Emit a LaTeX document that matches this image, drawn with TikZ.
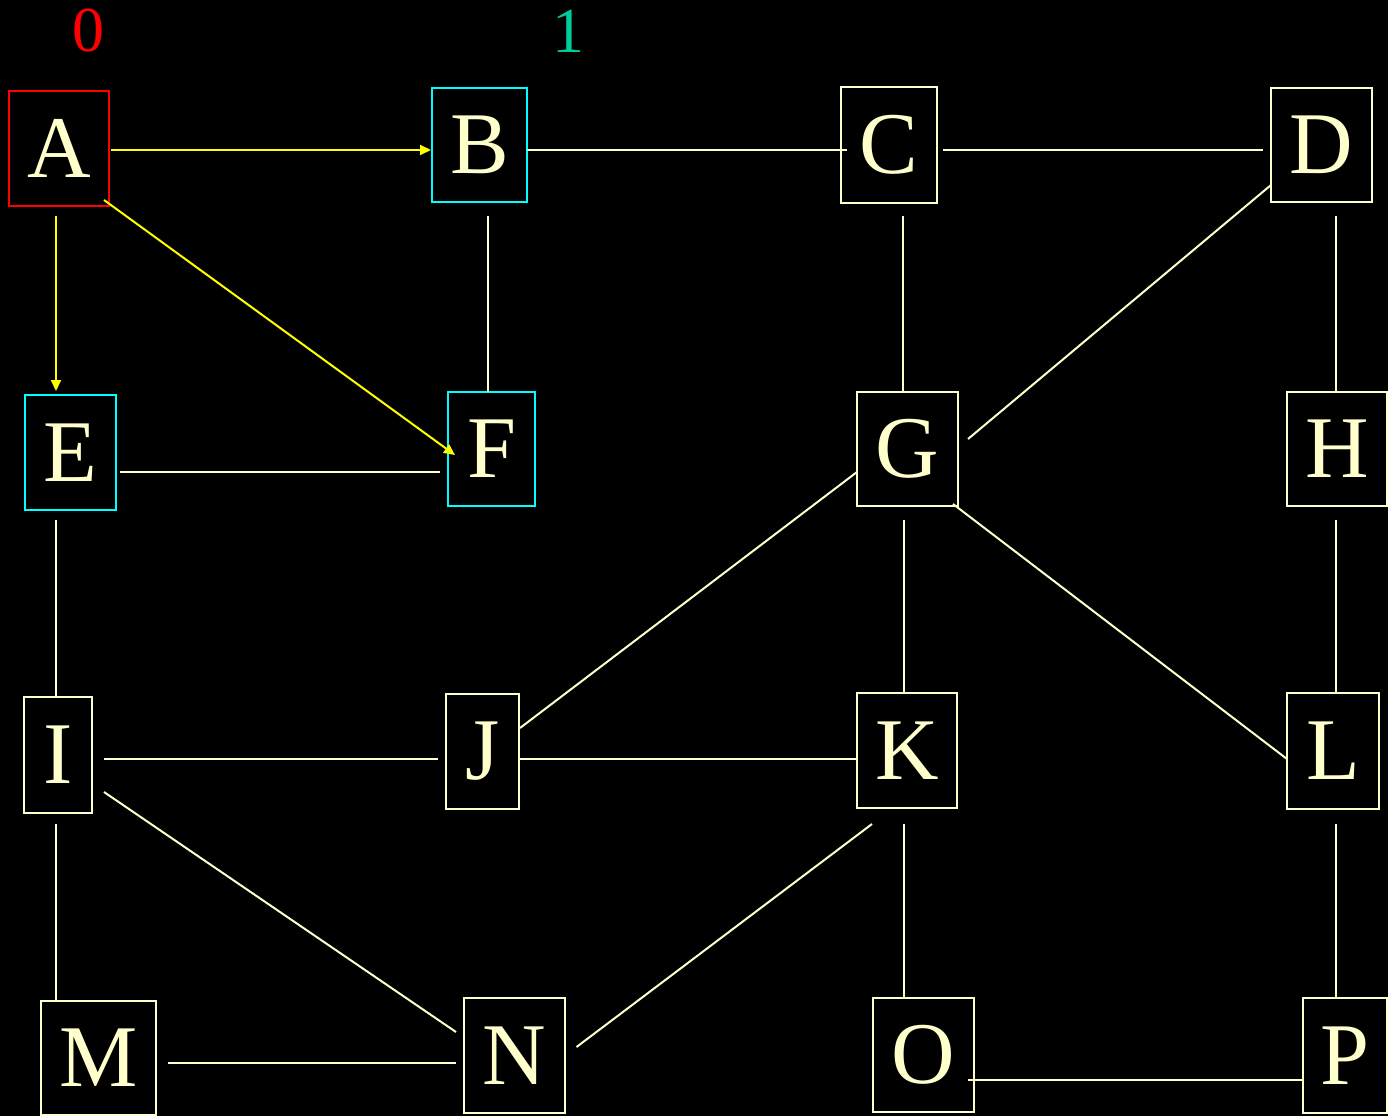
\documentclass[tikz,border=0pt]{standalone}
\usepackage{fontspec}
\setmainfont{Liberation Serif}
\usetikzlibrary{arrows.meta,calc}
\definecolor{cream}{HTML}{FFFFCC}
\definecolor{teal1}{HTML}{00CC99}
\definecolor{boxcyan}{HTML}{00FFFF}
\definecolor{boxred}{HTML}{FF0000}
\definecolor{treeyellow}{HTML}{FFFF00}
\tikzset{
  vbox/.style={draw=cream, line width=2.5pt, inner sep=0pt, outer sep=0pt, text=cream,
    font=\fontsize{88}{88}\selectfont},
  redbox/.style={vbox, draw=boxred},
  cyanbox/.style={vbox, draw=boxcyan},
  edge/.style={draw=cream, line width=2pt},
  tree/.style={draw=treeyellow, line width=2pt, -{Triangle[length=11pt,width=10pt]}},
  lvl/.style={inner sep=0pt, font=\fontsize{64}{64}\selectfont}
}
\begin{document}
\begin{tikzpicture}[x=1pt,y=-1pt]
\useasboundingbox[fill=black] (0,0) rectangle (1388,1116);
% level labels
\node[lvl, text=boxred] (l0) at (88,31) {0};
\node[lvl, text=teal1] (l1) at (568,31) {1};
% vertices
\node[redbox, minimum width=100pt, minimum height=115pt] (A) at (59,148.5) {A};
\node[cyanbox, minimum width=95pt, minimum height=114pt] (B) at (479.5,145) {B};
\node[vbox, minimum width=96pt, minimum height=116pt] (C) at (889,145) {C};
\node[vbox, minimum width=101pt, minimum height=114pt] (D) at (1321.5,145) {D};
\node[cyanbox, minimum width=91pt, minimum height=115pt] (E) at (70.5,452.5) {E};
\node[cyanbox, minimum width=87pt, minimum height=114pt] (F) at (491.5,449) {F};
\node[vbox, minimum width=101pt, minimum height=114pt] (G) at (907.5,449) {G};
\node[vbox, minimum width=100pt, minimum height=114pt] (H) at (1337,449) {H};
\node[vbox, minimum width=68pt, minimum height=116pt] (I) at (58,755) {I};
\node[vbox, minimum width=73pt, minimum height=115pt] (J) at (482.5,751.5) {J};
\node[vbox, minimum width=100pt, minimum height=115pt] (K) at (907,750.5) {K};
\node[vbox, minimum width=92pt, minimum height=116pt] (L) at (1333,751) {L};
\node[vbox, minimum width=115pt, minimum height=114pt] (M) at (98.5,1058) {M};
\node[vbox, minimum width=101pt, minimum height=115pt] (N) at (514.5,1055.5) {N};
\node[vbox, minimum width=101pt, minimum height=114pt] (O) at (923.5,1055) {O};
\node[vbox, minimum width=84pt, minimum height=115pt] (P) at (1345,1055.5) {P};
% tree edges (yellow arrows)
\draw[tree] ($(A.east)+(2,1.5)$) -- ($(B.west)+(-1,5)$);
\draw[tree] ($(A.south)+(-3,10)$) -- ($(E.north)+(-14.5,-4)$);
\draw[tree] ($(A.south east)+(-5,-6)$) -- ($(F.west)+(7,6)$);
% other edges
\draw[edge] ($(B.east)+(0,5)$) -- ($(C.west)+(6,5)$);
\draw[edge] ($(B.south)+(8.5,14)$) -- ($(F.north)+(-3.5,0)$);
\draw[edge] ($(C.east)+(6,5)$) -- ($(D.west)+(-8,5)$);
\draw[edge] ($(C.south)+(14,13)$) -- ($(G.north)+(-4.5,0)$);
\draw[edge] ($(D.west)+(0,40)$) -- ($(G.east)+(10,-10)$);
\draw[edge] ($(D.south)+(14.5,14)$) -- ($(H.north)+(-1,0)$);
\draw[edge] ($(E.east)+(4,19.5)$) -- ($(F.west)+(-8,23)$);
\draw[edge] ($(E.south)+(-14.5,10)$) -- ($(I.north)+(-2,0)$);
\draw[edge] ($(G.west)+(0,23)$) -- ($(J.east)+(1,-23.5)$);
\draw[edge] ($(G.south)+(-3.5,14)$) -- ($(K.north)+(-3,0)$);
\draw[edge] ($(G.south east)+(-5,-2)$) -- ($(L.west)+(0,8)$);
\draw[edge] ($(H.south)+(-1,14)$) -- ($(L.north)+(3,0)$);
\draw[edge] ($(I.east)+(12,4)$) -- ($(J.west)+(-8,7.5)$);
\draw[edge] ($(J.east)+(1,7.5)$) -- ($(K.west)+(0,8.5)$);
\draw[edge] ($(I.east)+(12,37)$) -- ($(N.west)+(-8,-23.5)$);
\draw[edge] ($(I.south)+(-2,11)$) -- ($(M.north)+(-42.5,0)$);
\draw[edge] ($(K.south)+(-35,16)$) -- ($(N.east)+(11.5,-8.5)$);
\draw[edge] ($(K.south)+(-3,16)$) -- ($(O.north)+(-19.5,0)$);
\draw[edge] ($(L.south)+(3,15)$) -- ($(P.north)+(-9,0)$);
\draw[edge] ($(M.east)+(12,5)$) -- ($(N.west)+(-8,7.5)$);
\draw[edge] ($(O.east)+(-6,25)$) -- ($(P.west)+(0,24.5)$);
\end{tikzpicture}
\end{document}
